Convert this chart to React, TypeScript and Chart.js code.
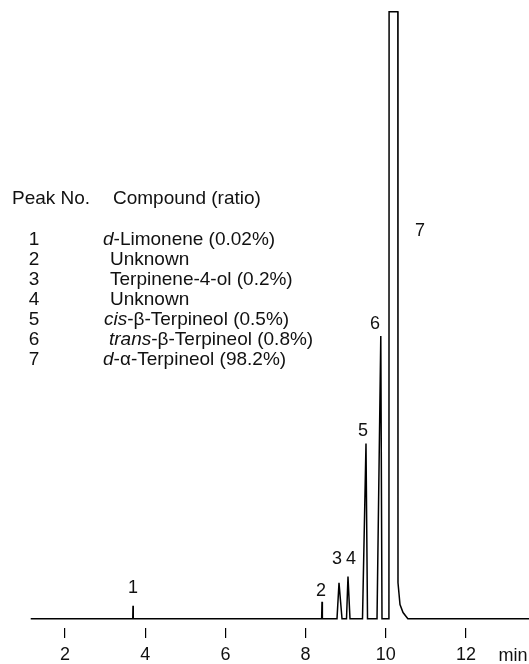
import React, { useEffect, useRef } from "react";
import { Chart, registerables } from "chart.js";

Chart.register(...registerables);

// Retention time (min) and detector signal (relative units)
const retentionTime = [
  1.145, 3.69, 3.696, 3.702, 8.4, 8.409, 8.418, 8.783, 8.833, 8.908, 9.02, 9.057, 9.107,
  9.419, 9.506, 9.544, 9.781, 9.875, 9.905, 10.078, 10.082, 10.3, 10.304, 10.354, 10.43,
  10.55, 13.571,
];
const signal = [
  0, 0, 2.1, 0, 0, 2.75, 0, 0, 5.8, 0, 0, 6.8, 0,
  0, 28.3, 0, 0, 45.7, 0, 0, 98.1, 98.1, 5.8, 2.3, 1.0,
  0, 0,
];

// Peak number labels (placed in data coordinates)
const peakNumbers = ["1", "2", "3", "4", "5", "6", "7"];
const peakLabelTime = [3.696, 8.384, 8.783, 9.132, 9.431, 9.731, 10.853];
const peakLabelSignal = [5.2, 4.7, 9.9, 9.9, 30.5, 47.8, 62.9];

// Axis ticks
const xTicks = [2, 4, 6, 8, 10, 12];
const xUnit = "min";

// Legend table
const legendHeader = ["Peak No.", "Compound (ratio)"];
type Seg = { t: string; i?: boolean };
const compounds: Seg[][] = [
  [{ t: "d", i: true }, { t: "-Limonene (0.02%)" }],
  [{ t: "Unknown" }],
  [{ t: "Terpinene-4-ol (0.2%)" }],
  [{ t: "Unknown" }],
  [{ t: "cis", i: true }, { t: "-β-Terpineol (0.5%)" }],
  [{ t: "trans", i: true }, { t: "-β-Terpineol (0.8%)" }],
  [{ t: "d", i: true }, { t: "-α-Terpineol (98.2%)" }],
];

const FONT = "'Liberation Sans', Arial, Helvetica, sans-serif";

const annotate = {
  id: "annotate",
  afterDraw(chart: any) {
    const ctx = chart.ctx as CanvasRenderingContext2D;
    const xs = chart.scales.x;
    const ys = chart.scales.y;
    ctx.save();
    ctx.fillStyle = "#111";
    // peak labels
    ctx.font = `18px ${FONT}`;
    ctx.textAlign = "center";
    ctx.textBaseline = "alphabetic";
    peakNumbers.forEach((n, k) => {
      const px = xs.getPixelForValue(peakLabelTime[k]);
      const py = ys.getPixelForValue(peakLabelSignal[k]);
      ctx.fillText(n, px, py + 6.4);
    });
    // unit label, aligned with the tick labels
    const tickY = chart.chartArea.bottom + 10 + 8 + 9;
    ctx.fillText(xUnit, chart.chartArea.right - 16, tickY + 6.4);

    // legend table
    const fs = 19;
    const off = 0.358 * fs;
    ctx.font = `${fs}px ${FONT}`;
    ctx.textAlign = "left";
    ctx.fillText(legendHeader[0], 12, 197 + off);
    ctx.fillText(legendHeader[1], 113, 197 + off);
    const compLeft = [103, 110, 110, 110, 104, 109, 103];
    compounds.forEach((segs, k) => {
      const y = 238 + 20 * k + off;
      ctx.font = `${fs}px ${FONT}`;
      ctx.textAlign = "center";
      ctx.fillText(peakNumbers[k], 34, y);
      ctx.textAlign = "left";
      let x = compLeft[k];
      segs.forEach((s) => {
        ctx.font = `${s.i ? "italic " : ""}${fs}px ${FONT}`;
        ctx.fillText(s.t, x, y);
        x += ctx.measureText(s.t).width;
      });
    });
    ctx.restore();
  },
};

export default function App() {
  const ref = useRef<HTMLCanvasElement | null>(null);
  useEffect(() => {
    if (!ref.current) return;
    const data = retentionTime.map((t, k) => ({ x: t, y: signal[k] }));
    const chart = new Chart(ref.current, {
      type: "scatter",
      data: {
        datasets: [
          {
            data,
            showLine: true,
            borderColor: "#000",
            borderWidth: 1.5,
            pointRadius: 0,
            tension: 0,
            fill: false,
          },
        ],
      },
      options: {
        animation: false,
        responsive: true,
        maintainAspectRatio: false,
        layout: { padding: 0 },
        plugins: { legend: { display: false }, tooltip: { enabled: false } },
        scales: {
          x: {
            type: "linear",
            min: 0.379,
            max: 13.571,
            border: { display: false },
            grid: {
              display: true,
              drawOnChartArea: false,
              drawTicks: true,
              tickLength: 10,
              color: "#000",
              lineWidth: 1.2,
            },
            afterBuildTicks: (scale: any) => {
              scale.ticks = xTicks.map((v) => ({ value: v }));
            },
            afterFit: (scale: any) => {
              scale.height = 36;
            },
            ticks: {
              padding: 8,
              color: "#111",
              maxRotation: 0,
              autoSkip: false,
              font: { family: FONT, size: 18, lineHeight: 1 },
              callback: (v: any) => String(v),
            },
          },
          y: {
            display: false,
            min: -1.5,
            max: 100,
          },
        },
      },
      plugins: [annotate],
    });
    return () => chart.destroy();
  }, []);
  return (
    <div style={{ position: "fixed", left: 0, top: 0, width: 529, height: 664, background: "#fff" }}>
      <canvas ref={ref} />
    </div>
  );
}
